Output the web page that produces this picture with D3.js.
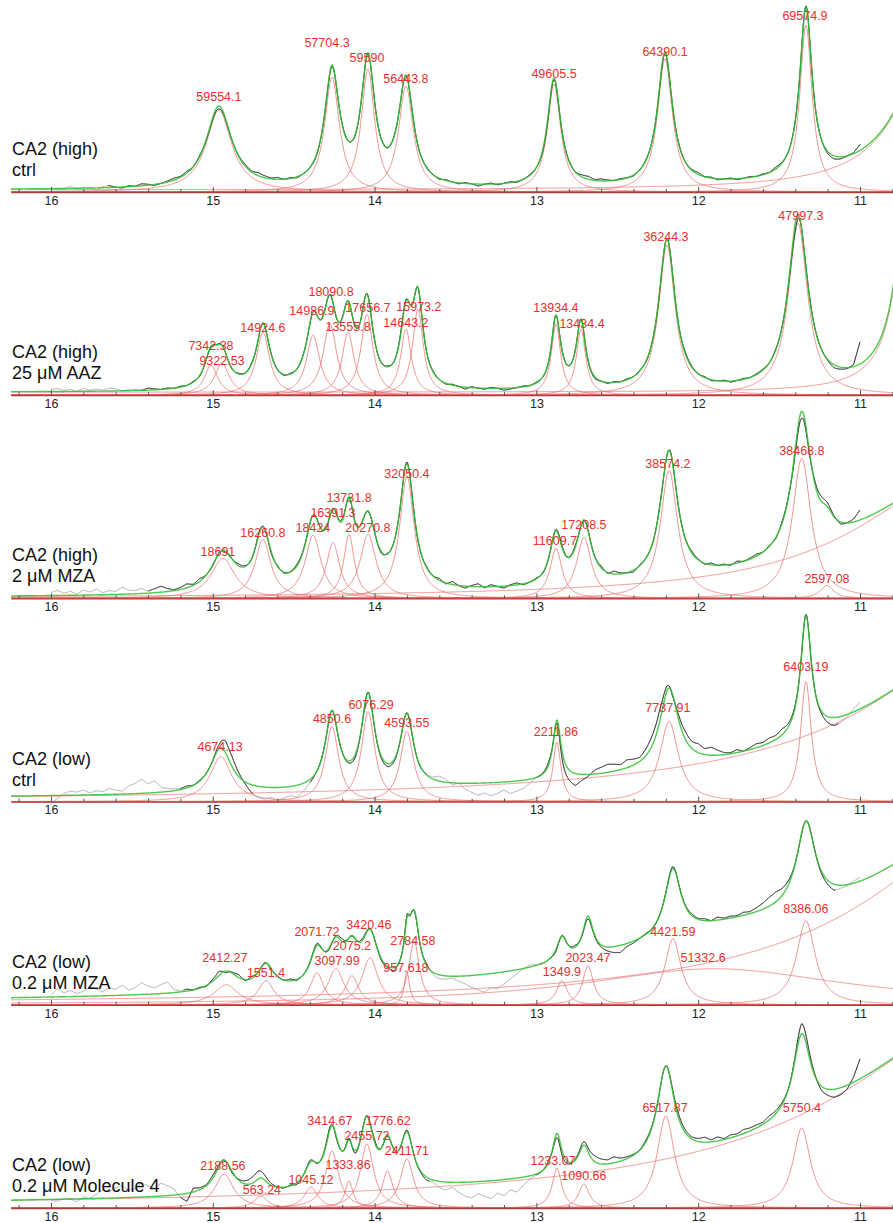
<!DOCTYPE html>
<html>
<head>
<meta charset="utf-8">
<script src="https://cdn.jsdelivr.net/npm/d3@7"></script>
<style>
  body { margin: 0; background: #fff; }
  svg { display: block; font-family: "Liberation Sans", Arial, sans-serif; }
</style>
</head>
<body>
<svg id="chart" width="893" height="1223"></svg>
<script>
// ppm axis
var majorTicks = [16, 15, 14, 13, 12, 11]
var minorTicks = [16.2, 15.8, 15.6, 15.4, 15.2, 14.8, 14.6, 14.4, 14.2, 13.8, 13.6, 13.4, 13.2,
  12.8, 12.6, 12.4, 12.2, 11.8, 11.6, 11.4, 11.2, 10.8]

var titles = [
  ["CA2 (high)", "ctrl"],
  ["CA2 (high)", "25 \u03bcM AAZ"],
  ["CA2 (high)", "2 \u03bcM MZA"],
  ["CA2 (low)", "ctrl"],
  ["CA2 (low)", "0.2 \u03bcM MZA"],
  ["CA2 (low)", "0.2 \u03bcM Molecule 4"]
]

// fitted lorentzians per panel: [center ppm, height, half width]
var peaksA = [[14.962, 82, 0.095], [14.263, 115, 0.055], [14.041, 123, 0.05], [13.806, 106, 0.055],
  [12.891, 108, 0.05], [12.205, 133, 0.056], [11.334, 167, 0.046]]
var peaksB = [[15.011, 30, 0.05], [14.943, 32, 0.055], [14.69, 63, 0.05], [14.38, 60, 0.05],
  [14.276, 72, 0.05], [14.164, 63, 0.045], [14.047, 81, 0.045], [13.806, 66, 0.04], [13.732, 86, 0.04],
  [12.879, 71, 0.035], [12.724, 66, 0.035], [12.193, 150, 0.062], [11.383, 172, 0.072]]
var peaksC = [[14.937, 40, 0.09], [14.69, 59, 0.06], [14.38, 63, 0.06], [14.257, 56, 0.05],
  [14.158, 64, 0.04], [14.04, 64, 0.06], [13.8, 122, 0.055], [12.879, 50, 0.045], [12.706, 61, 0.055],
  [12.18, 128, 0.065], [11.36, 140, 0.07], [11.204, 13, 0.05]]
var peaksD = [[14.95, 45, 0.08], [14.263, 75, 0.05], [14.04, 90, 0.05], [13.8, 70, 0.05],
  [12.873, 59, 0.03], [12.18, 80, 0.07], [11.334, 120, 0.04]]
var peaksE = [[14.918, 20, 0.09], [14.671, 24, 0.06], [14.356, 32, 0.05], [14.239, 36, 0.06],
  [14.14, 29, 0.05], [14.028, 47, 0.06], [13.8, 33, 0.02], [13.756, 64, 0.04], [12.842, 24, 0.04],
  [12.681, 39, 0.04], [12.156, 66, 0.06], [11.9, 36, 1.0], [11.334, 84, 0.07]]
var peaksF = [[14.93, 34, 0.07], [14.702, 12, 0.05], [14.393, 21, 0.05], [14.263, 57, 0.05],
  [14.158, 27, 0.03], [14.047, 64, 0.05], [13.92, 37, 0.04], [13.8, 49, 0.05], [12.873, 40, 0.035],
  [12.706, 24, 0.04], [12.2, 92, 0.065], [11.36, 80, 0.065]]

// peak areas printed on the chart
var areasA = ["59554.1", "57704.3", "59590", "56443.8", "49605.5", "64390.1", "69574.9"]
var areasB = ["7342.38", "9322.53", "14924.6", "14986.9", "18090.8", "13555.8", "17656.7", "14643.2",
  "15973.2", "13934.4", "13434.4", "36244.3", "47997.3"]
var areasC = ["18691", "16260.8", "18424", "16391.3", "13731.8", "20270.8", "32050.4", "11609.7",
  "17208.5", "38574.2", "38468.8", "2597.08"]
var areasD = ["4674.13", "4850.6", "6076.29", "4593.55", "2211.86", "7737.91", "6403.19"]
var areasE = ["2412.27", "1551.4", "2071.72", "3097.99", "2075.2", "3420.46", "957.618", "2784.58",
  "1349.9", "2023.47", "4421.59", "51332.6", "8386.06"]
var areasF = ["2188.56", "563.24", "1045.12", "3414.67", "1333.86", "2455.72", "1776.62", "2411.71",
  "1233.07", "1090.66", "6517.87", "5750.4"]

// where each area label sits: [ppm, intensity]
var labelAtA = [[14.962, 95], [14.294, 149], [14.047, 134], [13.806, 113], [12.891, 118], [12.205, 140], [11.34, 176]]
var labelAtB = [[15.011, 50], [14.943, 35], [14.69, 68], [14.387, 85], [14.269, 104], [14.164, 69], [14.041, 88],
  [13.806, 73], [13.726, 89], [12.879, 88], [12.718, 72], [12.199, 159], [11.365, 180]]
var labelAtC = [[14.968, 47], [14.69, 66], [14.381, 71], [14.257, 86], [14.158, 101], [14.041, 71], [13.8, 125],
  [12.885, 58], [12.706, 74], [12.187, 135], [11.359, 148], [11.204, 20]]
var labelAtD = [[14.955, 55], [14.263, 83], [14.022, 97], [13.8, 79], [12.879, 70], [12.187, 94], [11.334, 135]]
var labelAtE = [[14.925, 47], [14.671, 32], [14.356, 73], [14.232, 44], [14.14, 59], [14.035, 80], [13.806, 37],
  [13.763, 64], [12.842, 33], [12.681, 47], [12.156, 73], [11.97, 47], [11.334, 96]]
var labelAtF = [[14.937, 42], [14.696, 18], [14.393, 28], [14.276, 87], [14.164, 43], [14.047, 72], [13.917, 87],
  [13.8, 57], [12.897, 47], [12.706, 32], [12.205, 100], [11.359, 100]]

// broad rising background: [center, height, half width, offset]
var baseA = [10.5, 180, 0.25, 2]
var baseB = [10.65, 440, 0.08, 3]
var baseC = [10.4, 118, 0.75, 0]
var baseD = [9.8, 221, 1.0, 0]
var baseE = [10.0, 200, 1.0, 0]
var baseF = [10.0, 214, 1.2, 0]

// measured spectrum minus fit, every 0.04 ppm from 16.00 down to 11.00
var residA = [1,-1,0,2,-1,1,0,-2,1,2,0,-1,1,0,2,1,-1,0,1,2, 1,2,0,1,-1, -2,-3,-1,0,1,
  2,1,3,2,1,2,0,1,-1,0, 0,-1,0,-2,-1,1,0,-1,0,-1, 1,0,-1,1,0,-1,1,0,1,0,
  -1,1,0,-1,1,0,-2,0,1,-1,0,1,-1,0,1, 0,-2,-3,-1,0, 1,0,2,3,1,2,1,0,1,0,
  -1,0,1,0,-1,-2,0,1,0,1, 2,0,1,-1,0,1,-1,0,1,0, 1,0,2,1,0,1,2,1,0,0, -2,-3,-2,0,1,6]
var residB = [2,3,1,2,0,3,1,2,1,3,2,0,1,1,0,2,1,0,1,0, 1,0,1,-1,0, 0,1,0,-1,1,
  0,1,-1,0,1,0,-1,1,0,1, -1,0,1,0,-1,1,0,-1,0,1, 0,-1,1,0,2,1,0,-1,0,1,
  0,-1,1,0,-2,1,0,-1,1,0,-2,-1,0,1,0, 1,0,-1,0,1, 0,1,0,-1,-2,0,-1,1,0,1,
  0,1,-1,0,-1,0,1,0,2,1, 0,1,-1,0,1,-1,0,1,0,1, 1,0,1,0,-1,-8,0,2,1,0, -1,-3,-2,-1,2,22]
var residC = [3,5,2,4,1,5,3,6,2,4,3,7,4,3,5,2,4,6,3,1, 2,4,1,3,0, -1,1,-2,0,2,
  1,-1,2,0,-2,1,-1,0,2,1, -1,1,0,-2,1,2,-1,0,1,-1, 0,-2,1,0,-1,2,0,-1,1,0,
  2,-1,3,0,-2,1,3,-1,2,0,-2,1,2,-1,0, 1,-1,0,1,2, 0,2,-1,1,0,2,-1,3,1,0,
  -2,1,0,-1,2,0,1,-1,0,2, 1,-1,2,0,1,-1,2,0,1,2, 0,1,-1,2,1,-5,-7,-3,3,5, 4,1,-2,0,3,10]
var residD = [-8,-3,2,4,3,5,2,4,3,6,4,3,8,10,14,9,12,5,3,2, 1,2,0,1,0, 0,4,12,10,4,
  -2,-8,-11,-12,-10,-13,-11,-9,-12,-8, -3,0,1,0,-1,0,-2,-3,0,1, 0,-2,-3,-2,0,1,0,-1,1,2,
  5,3,-2,0,-6,-9,-12,-10,-13,-11,-8,-12,-10,-8,-4, 0,1,3,-2,-8, -10,-12,-6,-2,4,6,8,7,5,8,
  6,4,7,10,12,6,-2,5,8,7, 9,6,8,5,2,1,3,0,2,4, 3,5,4,6,3,2,0,1,0,-2, -6,-8,-6,-2,3,7]
var residE = [2,8,4,6,3,5,9,7,4,8,6,10,5,7,12,8,6,9,11,3, 1,2,0,1,-1, 2,4,-2,1,3,
  -1,2,0,1,-2,1,0,2,-1,0, 1,2,0,-2,1,3,0,-1,2,1, 0,-2,-1,-3,1,2,0,-1,2,-2,
  -4,-3,-2,-5,-8,-12,-15,-18,-14,-16,-12,-8,-4,0,2, 1,-1,0,-2,1, 0,2,-1,-3,-1,-2,-4,-6,-7,-3,
  -2,0,1,-1,0,1,2,0,1,2, 1,2,0,3,1,2,1,3,2,4, 6,9,10,7,4,0,-1,1,0,-2, -4,-6,-3,-1,2,4]
var residF = [-1,-2,1,0,-3,2,0,4,8,6,10,12,7,9,14,11,8,13,10,6, -3,-8,4,2,1, 3,2,0,-2,1,
  3,6,8,5,2,0,-1,1,-2,0, 2,-1,1,3,-2,0,2,-3,1,0, 3,0,-2,1,-1,2,0,-1,-3,-2,
  -6,-8,-5,-10,-14,-16,-12,-15,-18,-13,-16,-11,-14,-8,-3, -1,0,2,-4,-5, -2,1,3,4,6,5,4,6,3,2,
  1,0,2,1,-1,0,2,4,3,2, 3,5,2,4,1,3,2,4,3,3, 2,4,3,2,0,3,10,6,2,-4, -6,-8,-7,-4,5,20]

// stretches of the spectrum that were used in the fit (drawn black, the rest grey)
var fitRangeA = [[15.65, 11.0]]
var fitRangeB = [[15.45, 11.0]]
var fitRangeC = [[15.4, 11.0]]
var fitRangeD = [[15.2, 14.75], [14.4, 13.68], [13.0, 11.13]]
var fitRangeE = [[15.18, 13.66], [12.92, 11.15]]
var fitRangeF = [[15.2, 13.66], [13.0, 11.0]]

var panels = [
  {peaks: peaksA, areas: areasA, labelAt: labelAtA, base: baseA, resid: residA, fit: fitRangeA},
  {peaks: peaksB, areas: areasB, labelAt: labelAtB, base: baseB, resid: residB, fit: fitRangeB},
  {peaks: peaksC, areas: areasC, labelAt: labelAtC, base: baseC, resid: residC, fit: fitRangeC},
  {peaks: peaksD, areas: areasD, labelAt: labelAtD, base: baseD, resid: residD, fit: fitRangeD},
  {peaks: peaksE, areas: areasE, labelAt: labelAtE, base: baseE, resid: residE, fit: fitRangeE},
  {peaks: peaksF, areas: areasF, labelAt: labelAtF, base: baseF, resid: residF, fit: fitRangeF}
]

var width = 893
var panelStep = 203.2
var firstAxis = 192

var svg = d3.select('#chart')
var x = d3.scaleLinear().domain([16.247, 10.796]).range([11, 893])

function lor(p, c, h, g) {
  return h * g * g / ((p - c) * (p - c) + g * g)
}

function baseline(base, p) {
  return lor(p, base[0], base[1], base[2]) + base[3]
}

function fitSum(panel, p) {
  var s = baseline(panel.base, p)
  panel.peaks.forEach(function(pk) { s += lor(p, pk[0], pk[1], pk[2]) })
  return s
}

function residAt(panel, p) {
  var t = (16 - p) / 0.04
  var i = Math.max(0, Math.min(panel.resid.length - 2, Math.floor(t)))
  var f = t - i
  return panel.resid[i] * (1 - f) + panel.resid[i + 1] * f
}

var fullGrid = d3.range(16.247, 10.79, -0.004)
var specGrid = d3.range(16.0, 10.9999, -0.004)

svg.append('defs').append('clipPath').attr('id', 'plotclip')
  .append('rect').attr('x', 11).attr('y', 0).attr('width', width - 11).attr('height', 1223)

panels.forEach(function(panel, k) {
  var axisY = firstAxis + k * panelStep
  var y = d3.scaleLinear().domain([0, 190]).range([axisY, axisY - 190])
  var line = d3.line().x(function(d) { return x(d[0]) }).y(function(d) { return y(d[1]) })

  var g = svg.append('g').attr('class', 'panel')
  var plot = g.append('g').attr('clip-path', 'url(#plotclip)')

  // red component curves
  panel.peaks.forEach(function(pk) {
    plot.append('path')
      .datum(fullGrid.map(function(p) { return [p, lor(p, pk[0], pk[1], pk[2])] }))
      .attr('d', line)
      .attr('fill', 'none').attr('stroke', '#e96464').attr('stroke-width', 0.8).attr('stroke-opacity', 0.85)
  })
  plot.append('path')
    .datum(fullGrid.map(function(p) { return [p, baseline(panel.base, p)] }))
    .attr('d', line)
    .attr('fill', 'none').attr('stroke', '#e96464').attr('stroke-width', 0.8).attr('stroke-opacity', 0.85)

  // measured spectrum
  var spec = specGrid.map(function(p) { return [p, fitSum(panel, p) + residAt(panel, p)] })
  plot.append('path').datum(spec).attr('d', line)
    .attr('fill', 'none').attr('stroke', '#9a9a9a').attr('stroke-width', 0.8)
  panel.fit.forEach(function(r) {
    plot.append('path')
      .datum(spec.filter(function(d) { return d[0] <= r[0] && d[0] >= r[1] }))
      .attr('d', line)
      .attr('fill', 'none').attr('stroke', '#1a1a1a').attr('stroke-width', 0.8)
  })

  // green fit sum
  plot.append('path')
    .datum(fullGrid.map(function(p) { return [p, fitSum(panel, p)] }))
    .attr('d', line)
    .attr('fill', 'none').attr('stroke', '#2fbf2f').attr('stroke-width', 1.4).attr('stroke-opacity', 0.85)

  // axis with ticks pointing up
  g.append('g')
    .attr('transform', 'translate(0,' + axisY + ')')
    .call(d3.axisBottom(x).tickValues(minorTicks).tickSize(-3).tickSizeOuter(0).tickFormat(''))
    .call(function(a) { a.select('.domain').remove() })
    .selectAll('line').attr('stroke', '#555')
  var ax = g.append('g')
    .attr('transform', 'translate(0,' + axisY + ')')
    .call(d3.axisBottom(x).tickValues(majorTicks).tickSize(-5).tickSizeOuter(0).tickPadding(4).tickFormat(d3.format('d')))
  ax.select('.domain').attr('stroke', '#b23a3a').attr('stroke-width', 1.3)
  ax.selectAll('line').attr('stroke', '#555')
  ax.selectAll('text').attr('font-size', 12.5).attr('fill', '#222')
    .attr('font-family', '"Liberation Sans", Arial, sans-serif')

  // area labels
  g.selectAll('text.area')
    .data(panel.areas)
    .enter()
    .append('text')
    .attr('class', 'area')
    .attr('x', function(d, i) { return x(panel.labelAt[i][0]) })
    .attr('y', function(d, i) { return y(panel.labelAt[i][1]) })
    .attr('dy', '0.35em')
    .attr('text-anchor', 'middle')
    .attr('font-size', 12.5)
    .attr('fill', '#e8302c')
    .text(function(d) { return d })

  // panel title
  g.append('text').attr('x', 12).attr('y', axisY - 37)
    .attr('font-size', 18).attr('fill', '#111').text(titles[k][0])
  g.append('text').attr('x', 12).attr('y', axisY - 16)
    .attr('font-size', 18).attr('fill', '#111').text(titles[k][1])
})
</script>
</body>
</html>
